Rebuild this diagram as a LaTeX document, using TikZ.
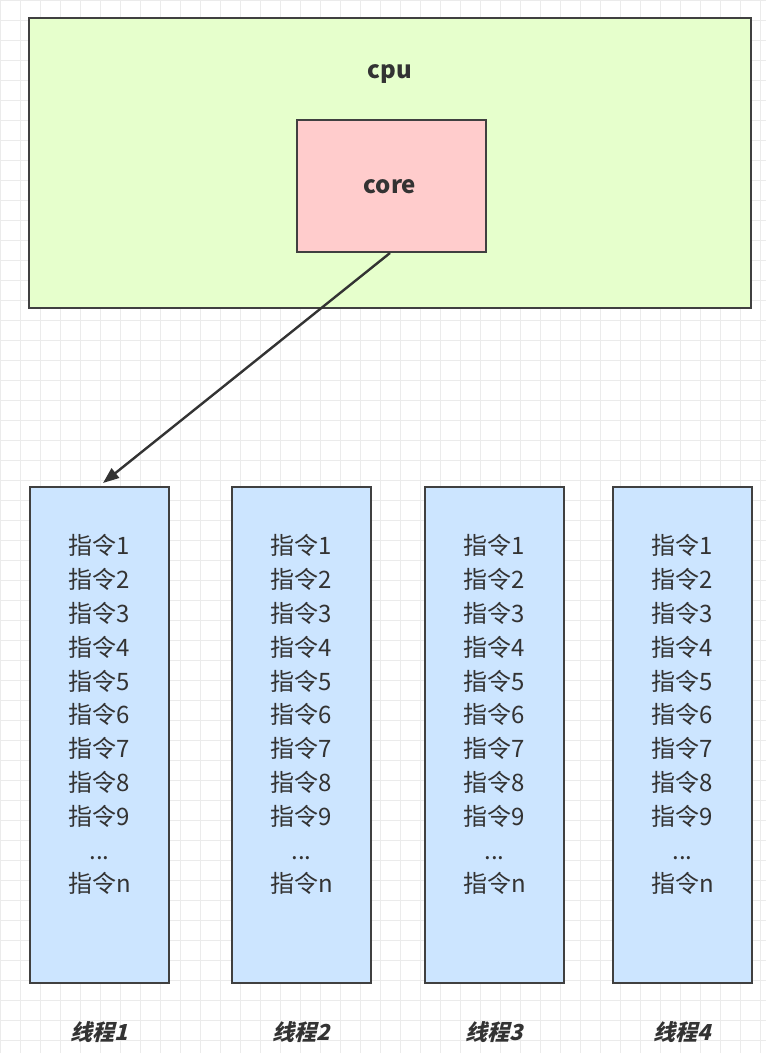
\documentclass[tikz,border=0pt]{standalone}
\usepackage{fontspec}
\setmainfont{Noto Sans CJK SC}
\newfontfamily\labfont{Noto Sans CJK SC}[FakeSlant=0.25]
\usetikzlibrary{arrows.meta}
\definecolor{gr}{RGB}{230,255,204}
\definecolor{pk}{RGB}{255,204,204}
\definecolor{bl}{RGB}{204,229,255}
\begin{document}
\begin{tikzpicture}[x=1pt,y=-1pt,
  box/.style={draw=black!75,line width=2pt},
  col/.style={box,fill=bl,minimum width=139pt,minimum height=496pt,anchor=north west},
  lab/.style={font=\labfont\bfseries\fontsize{22}{22}\selectfont},
  ins/.style={font=\fontsize{24}{33.8}\selectfont,align=center,anchor=north,text=black!80}]
\fill[white] (0,0) rectangle (766,1053);
\useasboundingbox (0,0) rectangle (766,1053);
\foreach \k in {0,20,...,760} \draw[black!8,line width=0.6pt] (\k,0) -- (\k,1053);
\foreach \k in {0,20,...,1040} \draw[black!8,line width=0.6pt] (0,\k) -- (766,\k);
\node[box,fill=gr,minimum width=722pt,minimum height=290pt,anchor=north west] (cpu) at (28,17) {};
\node[font=\bfseries\fontsize{24}{24}\selectfont,text=black!80] (cpul) at (390,74) {cpu};
\node[box,fill=pk,minimum width=189pt,minimum height=132pt,anchor=north west] (core) at (296,119) {};
\node[font=\bfseries\fontsize{24}{24}\selectfont,text=black!80] (corel) at (390,187) {core};
\coordinate (s) at (390,253);
\coordinate (e) at (103,483);
\draw[black!80,line width=2.4pt,-{Triangle[length=16pt,width=12pt]}] (s) -- (e);
\foreach \i/\x in {1/29,2/231,3/424,4/612}{
  \node[col] (c\i) at (\x,486) {};
  \node[ins] (t\i) at ([yshift=-45pt]c\i.north) {指令1\\指令2\\指令3\\指令4\\指令5\\指令6\\指令7\\指令8\\指令9\\...\\指令n};
  \node[lab,text=black!80] (l\i) at ([yshift=-48pt]c\i.south) {线程\i};
}
\end{tikzpicture}
\end{document}
